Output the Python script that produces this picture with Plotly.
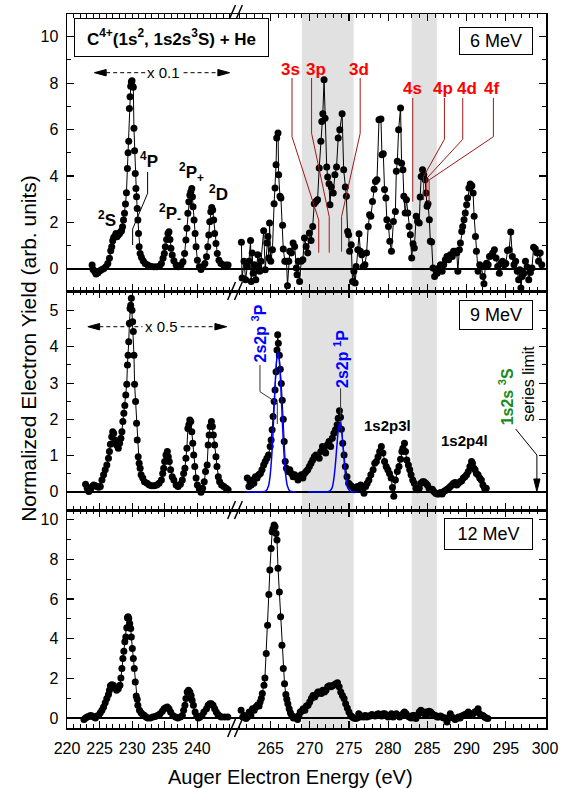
import plotly.graph_objects as go
from plotly.subplots import make_subplots

# ---------------- data (energy eV, normalized yield) ----------------
mev6_left = [(223.85,0.16),(224.00,-0.03),(224.26,-0.13),(224.46,-0.23),(224.76,-0.17),(225.06,-0.09),
 (225.36,-0.03),(225.66,0.01),(225.96,0.09),(226.26,0.23),(226.51,0.45),(226.71,0.78),(226.86,0.95),
 (227.01,1.21),(227.16,1.35),(227.36,1.41),(227.51,1.52),(227.66,1.38),(227.87,1.45),(228.07,1.52),
 (228.22,1.59),(228.37,1.64),(228.52,1.81),(228.67,2.10),(228.82,2.39),(228.97,2.79),(229.12,3.28),
 (229.27,4.32),(229.37,5.00),(229.47,5.50),(229.57,6.91),(229.67,7.41),(229.77,7.87),(229.87,8.06),
 (229.97,8.10),(230.07,7.87),(230.17,7.82),(230.27,6.05),(230.37,5.09),(230.47,4.11),(230.57,3.46),
 (230.67,3.10),(230.77,2.60),(230.87,2.10),(230.97,1.52),(231.07,0.95),(231.22,0.66),(231.42,0.49),
 (231.68,0.34),(231.98,0.23),(232.38,0.16),(232.78,0.11),(233.28,0.09),(233.78,0.09),(234.18,0.11),
 (234.48,0.23),(234.73,0.45),(234.93,0.66),(235.08,0.95),(235.28,1.26),(235.49,1.52),(235.64,1.59),
 (235.79,1.26),(235.94,0.88),(236.14,0.59),(236.39,0.34),(236.74,0.16),(237.09,0.09),(237.49,0.16),
 (237.79,0.30),(238.04,0.66),(238.24,1.24),(238.39,1.74),(238.54,2.39),(238.69,2.89),(238.84,3.18),
 (238.99,3.32),(239.14,3.46),(239.24,3.10),(239.34,2.67),(239.49,2.10),(239.65,1.52),(239.80,0.95),
 (240.00,0.37),(240.30,0.09),(240.55,-0.03),(240.85,0.09),(241.15,0.23),(241.40,0.52),(241.60,0.95),
 (241.75,1.45),(241.90,2.03),(242.05,2.46),(242.20,2.64),(242.35,2.53),(242.50,2.10),(242.65,1.52),
 (242.85,1.09),(243.05,0.66),(243.31,0.37),(243.61,0.23),(244.01,0.16),(244.41,0.16),(244.71,0.16)]

mev6_right = [(261.29,1.14),(261.38,-0.40),(261.63,0.32),(261.83,-0.47),(262.04,0.10),(262.25,0.32),
 (262.46,1.22),(262.54,-0.55),(262.67,0.68),(262.79,-0.19),(262.96,0.17),(263.13,-0.47),(263.38,0.60),
 (263.50,0.10),(263.63,-0.11),(263.79,0.32),(264.13,1.64),(264.33,-0.04),(264.54,1.11),(264.67,1.39),
 (264.79,0.46),(264.88,1.97),(265.04,0.32),(265.25,0.82),(265.46,2.80),(265.58,3.48),(265.71,4.48),
 (265.79,5.63),(265.96,5.85),(266.04,4.05),(266.21,3.12),(266.33,3.05),(266.54,1.87),(266.63,0.85),
 (266.83,0.32),(267.04,0.32),(267.17,-0.73),(267.33,0.32),(267.46,0.75),(267.67,0.68),(267.88,1.11),
 (268.08,0.96),(268.29,0.03),(268.38,-0.26),(268.54,0.32),(268.71,-0.55),(268.92,0.32),(269.13,0.39),
 (269.33,1.32),(269.54,0.96),(269.75,0.68),(269.96,1.54),(270.17,1.22),(270.38,1.82),(270.58,2.80),
 (270.79,2.90),(271.00,2.97),(271.21,4.34),(271.42,5.49),(271.54,6.35),(271.67,6.68),(271.83,8.15),
 (271.96,6.49),(272.17,4.38),(272.29,3.95),(272.46,3.66),(272.58,2.76),(272.75,3.52),(273.00,3.26),
 (273.21,4.05),(273.42,4.38),(273.63,5.63),(273.83,5.99),(274.13,6.68),(274.33,4.27),(274.54,3.52),
 (274.67,3.12),(274.83,1.61),(274.96,1.47),(275.08,0.75),(275.29,1.03),(275.46,-0.55),(275.63,-0.11),
 (275.79,-0.62),(275.92,0.10),(276.13,0.82),(276.29,1.51),(276.46,0.75),(276.63,0.60),(276.83,0.10),
 (277.04,0.17),(277.25,0.68),(277.46,1.82),(277.63,2.33),(277.79,2.26),(278.00,2.90),(278.21,3.43),
 (278.38,3.76),(278.58,3.84),(278.83,6.42),(279.08,6.45),(279.21,4.91),(279.38,4.96),(279.54,3.41),
 (279.71,3.05),(279.83,2.11),(280.04,1.82),(280.21,1.18),(280.42,0.75),(280.67,2.04),(280.92,2.47),
 (281.04,4.20),(281.17,4.63),(281.33,5.99),(281.58,6.93),(281.71,4.55),(281.88,4.27),(282.00,3.12),
 (282.17,2.40),(282.33,2.97),(282.50,2.40),(282.67,1.82),(282.83,1.47),(283.00,0.46),(283.17,1.08),
 (283.33,0.89),(283.58,2.26),(283.75,2.04),(283.96,1.97),(284.08,3.09),(284.21,3.98),(284.38,4.27),
 (284.54,4.05),(284.71,3.84),(284.83,3.26),(284.96,2.69),(285.08,2.80),(285.25,2.11),(285.38,1.18),
 (285.54,1.15),(285.71,0.03),(285.92,-0.33),(286.08,-0.07),(286.25,-0.19),(286.46,0.03),(286.67,0.17),
 (286.88,-0.11),(287.08,0.17),(287.29,0.39),(287.50,0.53),(287.71,0.39),(287.92,0.60),(288.17,0.53),
 (288.33,0.75),(288.54,0.75),(288.75,0.68),(288.88,-0.11),(289.08,0.82),(289.21,1.11),(289.38,1.61),
 (289.50,1.82),(289.67,2.11),(289.83,2.40),(290.00,2.76),(290.13,3.05),(290.29,3.48),(290.46,3.65),
 (290.67,3.58),(290.83,3.26),(290.96,2.26),(291.13,1.39),(291.25,0.75),(291.46,-0.11),(291.67,0.17),
 (291.88,0.10),(292.08,-0.33),(292.21,-0.65),(292.38,0.10),(292.54,0.24),(292.75,0.17),(292.92,0.53),
 (293.13,0.56),(293.33,0.68),(293.54,0.82),(293.75,0.46),(293.96,0.10),(294.17,-0.19),(294.38,0.24),
 (294.58,0.32),(294.79,0.17),(295.00,0.22),(295.21,0.79),(295.42,0.82),(295.63,1.58),(295.83,0.53),
 (296.04,0.17),(296.25,0.32),(296.46,-0.11),(296.63,-0.47),(296.79,-0.04),(296.92,-0.83),(297.08,-0.33),
 (297.29,-0.19),(297.50,0.32),(297.71,0.07),(297.92,-0.47),(298.13,-0.16),(298.33,0.03),(298.54,0.93),
 (298.75,0.86),(298.96,0.68),(299.17,0.32),(299.38,0.68),(299.58,0.17)]

mev9_left = [(222.85,0.21),(223.10,0.10),(223.35,0.01),(223.60,0.06),(223.85,0.15),(224.10,0.19),
 (224.36,0.17),(224.61,0.15),(224.86,0.13),(225.11,0.15),(225.36,0.33),(225.61,0.47),(225.86,0.61),
 (226.11,0.74),(226.36,0.93),(226.51,1.11),(226.66,1.31),(226.86,1.52),(227.01,1.66),(227.16,1.62),
 (227.36,1.43),(227.61,1.29),(227.87,1.20),(228.07,1.34),(228.27,1.48),(228.42,1.66),(228.57,1.94),
 (228.72,2.17),(228.87,2.38),(229.02,2.67),(229.17,2.97),(229.27,3.50),(229.37,3.77),(229.47,4.14),
 (229.57,4.65),(229.67,5.06),(229.77,5.15),(229.87,5.34),(229.97,5.01),(230.07,4.69),(230.17,4.42),
 (230.27,3.77),(230.37,2.97),(230.52,2.49),(230.67,1.89),(230.77,1.43),(230.92,0.97),(231.07,0.79),
 (231.22,0.65),(231.37,0.47),(231.62,0.38),(231.88,0.28),(232.28,0.24),(232.63,0.19),(232.98,0.17),
 (233.38,0.17),(233.78,0.19),(234.13,0.24),(234.48,0.33),(234.68,0.51),(234.83,0.65),(234.98,0.84),
 (235.18,1.02),(235.39,1.11),(235.54,0.97),(235.69,0.84),(235.89,0.61),(236.14,0.42),(236.39,0.33),
 (236.74,0.19),(237.04,0.15),(237.39,0.21),(237.69,0.33),(237.89,0.51),(238.09,0.65),(238.24,0.93),
 (238.39,1.20),(238.54,1.75),(238.69,1.85),(238.84,1.98),(238.99,1.94),(239.14,1.66),(239.29,1.34),
 (239.44,1.02),(239.60,0.70),(239.80,0.38),(240.00,0.19),(240.30,0.08),(240.55,-0.01),(240.80,0.10),
 (241.05,0.28),(241.25,0.56),(241.50,0.74),(241.65,1.29),(241.80,1.57),(241.95,1.80),(242.15,1.94),
 (242.30,1.80),(242.45,1.57),(242.65,1.29),(242.85,0.97),(243.00,0.70),(243.21,0.42),(243.41,0.28),
 (243.71,0.19),(244.06,0.15),(244.41,0.10),(244.71,0.06)]

mev9_right = [(262.04,0.38),(262.25,0.15),(262.38,0.28),(262.54,0.19),(262.67,0.33),(262.88,0.24),
 (263.08,0.42),(263.29,0.38),(263.50,0.47),(263.71,0.51),(263.92,0.61),(264.13,0.74),(264.33,0.84),
 (264.54,0.93),(264.75,1.02),(264.96,1.25),(265.08,1.43),(265.21,1.71),(265.33,2.08),(265.46,2.49),
 (265.58,2.81),(265.71,3.31),(265.83,3.91),(265.92,4.33),(266.00,4.10),(266.13,3.77),(266.25,3.38),
 (266.38,2.99),(266.50,2.53),(266.63,2.00),(266.75,1.39),(266.88,0.84),(267.04,0.65),(267.25,0.56),
 (267.46,0.61),(267.67,0.51),(267.88,0.42),(268.08,0.47),(268.29,0.42),(268.50,0.33),(268.71,0.42),
 (268.92,0.47),(269.13,0.38),(269.33,0.51),(269.54,0.56),(269.75,0.61),(269.96,0.70),(270.17,0.79),
 (270.38,0.88),(270.58,0.97),(270.79,1.02),(271.00,0.97),(271.21,0.93),(271.42,1.11),(271.63,1.25),
 (271.83,1.16),(272.04,1.07),(272.25,1.29),(272.46,1.39),(272.67,1.25),(272.88,1.48),(273.08,1.62),
 (273.29,1.71),(273.50,1.85),(273.63,2.03),(273.79,2.24),(273.92,2.06),(274.04,1.73),(274.21,1.34),
 (274.38,1.02),(274.54,0.70),(274.75,0.42),(274.96,0.24),(275.17,0.19),(275.38,0.15),(275.67,0.06),
 (275.88,0.10),(276.08,0.15),(276.29,0.10),(276.50,0.19),(276.71,0.06),(276.92,-0.04),(277.13,0.15),
 (277.33,0.24),(277.54,0.33),(277.79,0.47),(278.08,0.61),(278.29,0.79),(278.50,0.84),(278.71,0.97),
 (278.92,1.11),(279.13,1.25),(279.33,1.07),(279.54,0.84),(279.75,0.70),(279.96,0.61),(280.17,0.51),
 (280.38,0.38),(280.55,0.12),(280.72,-0.12),(280.92,0.33),(281.17,0.56),(281.38,0.70),(281.58,0.90),
 (281.75,1.11),(281.88,1.20),(282.08,1.34),(282.21,1.11),(282.38,0.88),(282.58,0.74),(282.75,0.61),
 (282.92,0.47),(283.13,0.33),(283.33,0.24),(283.54,0.10),(283.75,0.06),(283.96,0.10),(284.17,0.24),
 (284.38,0.28),(284.58,0.28),(284.79,0.24),(285.00,0.19),(285.21,0.10),(285.42,0.06),(285.63,0.07),
 (285.83,0.01),(286.04,-0.04),(286.25,-0.06),(286.46,-0.06),(286.67,-0.02),(286.88,-0.06),(287.08,0.01),
 (287.29,0.04),(287.50,0.07),(287.71,0.10),(287.92,0.15),(288.13,0.19),(288.33,0.24),(288.54,0.26),
 (288.75,0.19),(288.96,0.24),(289.17,0.28),(289.38,0.31),(289.58,0.38),(289.79,0.42),(290.00,0.47),
 (290.21,0.56),(290.42,0.70),(290.63,0.84),(290.75,0.79),(290.92,0.65),(291.08,0.61),(291.25,0.51),
 (291.46,0.47),(291.67,0.38),(291.88,0.33),(292.08,0.19),(292.29,0.10),(292.50,0.10)]

mev12_left = [(222.60,-0.07),(222.85,0.00),(223.10,0.05),(223.35,0.08),(223.60,0.13),(223.85,0.10),
 (224.10,0.05),(224.36,0.00),(224.61,0.10),(224.86,0.13),(225.11,0.27),(225.36,0.39),(225.61,0.56),
 (225.86,0.77),(226.11,0.98),(226.36,1.18),(226.51,1.40),(226.66,1.62),(226.86,1.68),(227.11,1.65),
 (227.36,1.52),(227.61,1.40),(227.87,1.48),(228.12,1.65),(228.27,2.02),(228.42,2.49),(228.57,3.00),
 (228.72,3.37),(228.87,3.84),(229.02,4.09),(229.17,4.55),(229.27,5.05),(229.37,5.10),(229.47,5.02),
 (229.62,4.76),(229.77,4.51),(229.87,4.09),(230.02,3.50),(230.17,3.00),(230.32,2.49),(230.47,1.82),
 (230.62,1.11),(230.77,0.94),(230.87,0.64),(231.12,0.39),(231.37,0.27),(231.62,0.17),(231.88,0.13),
 (232.13,0.05),(232.38,0.00),(232.78,0.00),(233.18,0.05),(233.53,0.08),(233.88,0.13),(234.28,0.22),
 (234.63,0.34),(234.88,0.47),(235.13,0.52),(235.39,0.56),(235.64,0.47),(235.89,0.30),(236.24,0.13),
 (236.64,0.05),(236.99,0.00),(237.39,0.05),(237.69,0.13),(237.89,0.39),(238.09,0.64),(238.24,0.98),
 (238.44,1.31),(238.64,1.40),(238.84,1.31),(239.04,1.14),(239.19,0.89),(239.39,0.64),(239.65,0.30),
 (239.90,0.10),(240.15,0.00),(240.40,0.05),(240.70,0.13),(241.00,0.30),(241.40,0.47),(241.65,0.64),
 (241.90,0.72),(242.15,0.72),(242.40,0.64),(242.65,0.47),(242.90,0.30),(243.15,0.17),(243.41,0.10),
 (243.66,0.05),(244.16,0.05),(244.66,0.05)]

mev12_right = [(261.25,0.39),(261.46,0.05),(261.67,0.13),(261.88,-0.03),(262.08,0.05),(262.29,0.30),
 (262.50,0.13),(262.71,0.47),(262.92,0.39),(263.13,0.56),(263.33,0.64),(263.54,0.61),(263.67,0.81),
 (263.83,0.98),(263.96,1.23),(264.17,1.65),(264.29,2.02),(264.46,3.25),(264.63,4.68),(264.79,6.23),
 (264.92,7.46),(265.08,8.55),(265.21,9.39),(265.33,9.56),(265.46,9.73),(265.58,9.65),(265.71,9.31),
 (265.83,8.98),(265.96,7.55),(266.13,6.36),(266.29,5.10),(266.46,3.67),(266.63,2.49),(266.79,1.73),
 (266.96,1.18),(267.08,0.94),(267.21,0.72),(267.38,0.47),(267.54,0.27),(267.71,0.13),(267.92,0.00),
 (268.13,0.05),(268.33,0.00),(268.46,-0.07),(268.63,0.13),(268.79,0.30),(268.96,0.34),(269.17,0.47),
 (269.38,0.39),(269.58,0.61),(269.79,0.64),(270.00,0.81),(270.21,0.98),(270.42,1.14),(270.63,1.06),
 (270.83,1.18),(271.04,1.31),(271.25,1.31),(271.46,1.23),(271.67,1.40),(271.88,1.31),(272.08,1.40),
 (272.29,1.57),(272.50,1.62),(272.71,1.57),(272.92,1.62),(273.13,1.68),(273.33,1.73),(273.54,1.78),
 (273.75,1.57),(273.96,1.31),(274.17,1.14),(274.38,0.98),(274.58,0.72),(274.79,0.50),(275.00,0.30),
 (275.21,0.13),(275.42,0.05),(275.63,0.00),(275.83,-0.03),(276.04,0.00),(276.25,0.22),(276.46,0.05),
 (276.67,0.10),(276.88,0.05),(277.08,0.13),(277.29,0.05),(277.50,0.10),(277.71,0.10),(277.92,0.17),
 (278.13,0.13),(278.33,0.10),(278.54,0.17),(278.75,0.22),(278.96,0.13),(279.17,0.10),(279.38,0.22),
 (279.58,0.22),(279.79,0.13),(280.00,0.05),(280.21,0.13),(280.42,0.22),(280.63,0.05),(280.83,0.13),
 (281.04,0.22),(281.25,0.13),(281.46,0.05),(281.67,0.13),(281.88,0.22),(282.08,0.30),(282.29,0.22),
 (282.50,0.10),(282.71,0.05),(282.92,0.00),(283.13,0.13),(283.33,0.13),(283.54,-0.03),(283.75,0.13),
 (283.96,0.30),(284.17,0.39),(284.38,0.30),(284.58,0.22),(284.79,0.30),(285.00,0.22),(285.21,0.34),
 (285.42,0.30),(285.63,0.22),(285.83,0.13),(286.04,0.13),(286.25,0.05),(286.46,0.05),(286.67,0.10),
 (286.88,0.05),(287.08,0.00),(287.29,0.00),(287.50,-0.20),(287.71,0.00),(287.92,0.22),(288.13,0.05),
 (288.33,0.00),(288.54,-0.07),(288.75,-0.03),(288.96,0.05),(289.17,0.00),(289.38,0.10),(289.58,0.13),
 (289.79,0.17),(290.00,0.22),(290.21,0.30),(290.42,0.13),(290.63,0.22),(290.83,0.22),(291.04,0.30),
 (291.25,0.34),(291.46,0.47),(291.67,0.22),(291.88,0.13),(292.08,0.13),(292.29,0.05),(292.50,0.00),
 (292.71,-0.03)]

# blue fitted lines
fit_2s2p_3P = [(261.9,0.0),(263.9,0.0),(264.45,0.03),(264.75,0.17),(264.95,0.44),(265.15,0.96),
 (265.35,1.77),(265.55,2.74),(265.75,3.55),(265.95,3.87),(266.15,3.55),(266.35,2.74),(266.55,1.77),
 (266.75,0.96),(266.95,0.44),(267.15,0.17),(267.45,0.03),(268.0,0.0),(268.2,0.0)]
fit_2s2p_1P = [(269.8,0.0),(272.2,0.0),(272.55,0.02),(272.85,0.11),(273.05,0.32),(273.25,0.70),
 (273.45,1.23),(273.65,1.72),(273.85,1.93),(274.05,1.72),(274.25,1.23),(274.45,0.70),(274.65,0.32),
 (274.85,0.11),(275.15,0.02),(275.5,0.0),(276.0,0.0)]

gray_bands = [(269.0, 275.6), (283.0, 286.2)]
x_ticks_left = [220, 225, 230, 235, 240]
x_ticks_right = [265, 270, 275, 280, 285, 290, 295, 300]
panel_labels = ["6 MeV", "9 MeV", "12 MeV"]

# ---------------- figure geometry ----------------
W, H = 570, 789
ML, MR, MT, MB = 67, 14, 14, 61
FONT = "Liberation Sans, Arial, Helvetica, sans-serif"


def px(x):  # window pixel -> paper x
    return (x - ML) / (W - ML - MR)


def py(y):  # window pixel -> paper y
    return (H - MB - y) / (H - MT - MB)


fig = make_subplots(rows=3, cols=2, column_widths=[173.7, 315.3], row_heights=[277, 219, 218],
                    horizontal_spacing=0, vertical_spacing=0)

series = {(1, 1): mev6_left, (1, 2): mev6_right, (2, 1): mev9_left, (2, 2): mev9_right,
          (3, 1): mev12_left, (3, 2): mev12_right}
for (r, c), pts in series.items():
    fig.add_trace(go.Scatter(x=[p[0] for p in pts], y=[p[1] for p in pts], mode="lines+markers",
                             line=dict(color="black", width=1),
                             marker=dict(color="black", size=7),
                             showlegend=False, hoverinfo="skip"), row=r, col=c)

for fit in (fit_2s2p_3P, fit_2s2p_1P):
    fig.add_trace(go.Scatter(x=[p[0] for p in fit], y=[p[1] for p in fit], mode="lines",
                             line=dict(color="#0000ff", width=1.5, shape="spline", smoothing=0.8),
                             showlegend=False, hoverinfo="skip"), row=2, col=2)

shapes = []
annots = []

# gray bands (right column axes: x2/y2, x4/y4, x6/y6)
for ax in ("2", "4", "6"):
    for b0, b1 in gray_bands:
        shapes.append(dict(type="rect", xref="x" + ax, yref="y" + ax + " domain", x0=b0, x1=b1,
                           y0=0, y1=1, fillcolor="#e1e1e1", line=dict(width=0), layer="below"))

# axes
yrows = {1: ([-0.96, 10.98], 2, 1), 2: ([-0.5, 5.54], 1, 0.5), 3: ([-0.505, 10.49], 2, 1)}
for r in (1, 2, 3):
    rng, dt, mdt = yrows[r]
    for c in (1, 2):
        fig.update_yaxes(row=r, col=c, range=rng, tickmode="linear", tick0=0, dtick=dt,
                         ticks="inside", ticklen=7, tickwidth=1.2, tickcolor="black",
                         minor=dict(ticks="inside", ticklen=4, dtick=mdt, tick0=0, tickcolor="black",
                                    tickwidth=1, showgrid=False),
                         showline=True, linewidth=1.5, linecolor="black", mirror=False,
                         side="left" if c == 1 else "right", showticklabels=(c == 1),
                         showgrid=False, zeroline=True, zerolinewidth=2, zerolinecolor="black",
                         tickfont=dict(size=16, color="black", family=FONT), ticklabelstandoff=4)
        if c == 1:
            fig.update_xaxes(row=r, col=c, range=[220, 246.1], tickmode="array", tickvals=x_ticks_left,
                             minor=dict(ticks="inside", ticklen=4, dtick=1, tick0=220, tickcolor="black",
                                        tickwidth=1, showgrid=False))
        else:
            fig.update_xaxes(row=r, col=c, range=[260.75, 300.12], tickmode="array", tickvals=x_ticks_right,
                             minor=dict(ticks="inside", ticklen=4, dtick=1, tick0=260, tickcolor="black",
                                        tickwidth=1, showgrid=False))
        fig.update_xaxes(row=r, col=c, ticks="inside", ticklen=7, tickwidth=1.2, tickcolor="black",
                         showline=True, linewidth=1.5, linecolor="black", mirror="ticks",
                         showgrid=False, zeroline=False, showticklabels=(r == 3),
                         tickfont=dict(size=16, color="black", family=FONT), ticklabelstandoff=5)


def path_line(pts, color="black", width=1, dash=None):
    d = "M " + " L ".join(f"{px(x):.5f},{py(y):.5f}" for x, y in pts)
    ln = dict(color=color, width=width)
    if dash:
        ln["dash"] = dash
    shapes.append(dict(type="path", xref="paper", yref="paper", path=d, line=ln))


def tri(tip_x, base_x, y, half=3.2):
    d = (f"M {px(tip_x):.5f},{py(y):.5f} L {px(base_x):.5f},{py(y - half):.5f} "
         f"L {px(base_x):.5f},{py(y + half):.5f} Z")
    shapes.append(dict(type="path", xref="paper", yref="paper", path=d,
                       fillcolor="black", line=dict(color="black", width=1)))


def ann(text, x, y, size=16, color="black", bold=False, angle=0, **kw):
    if bold:
        text = f"<b>{text}</b>"
    d = dict(text=text, x=px(x), y=py(y), xref="paper", yref="paper", showarrow=False,
             xanchor="center", yanchor="middle", textangle=angle,
             font=dict(size=size, color=color, family=FONT))
    d.update(kw)
    annots.append(d)


# boxes
ann("C<sup>4+</sup>(1s<sup>2</sup>, 1s2s<sup>3</sup>S) + He", 173.5, 37.5, size=17, bold=True,
    bordercolor="black", borderwidth=1, borderpad=2, bgcolor="white", width=189, height=33)
box_pos = [(505, 41, 68, 22), (505, 315, 68, 24), (497.5, 534, 83, 26)]
for lab, (bx, by, bw, bh) in zip(panel_labels, box_pos):
    ann(lab, bx, by, size=18, bordercolor="black", borderwidth=1, borderpad=2, bgcolor="white",
        width=bw, height=bh)

# scale arrows
for (yy, tipL, tipR, txt, tx, dL, dR) in [(72.7, 95, 233, "x 0.1", 166, (107, 147), (186, 221)),
                                          (326.7, 88.3, 230, "x 0.5", 163.5, (100, 144), (183, 218))]:
    path_line([(dL[0], yy), (dL[1], yy)], dash="4px,3px")
    path_line([(dR[0], yy), (dR[1], yy)], dash="4px,3px")
    tri(tipL, tipL + 12, yy)
    tri(tipR, tipR - 12, yy)
    ann(txt, tx, yy, size=15)

# term labels (6 MeV, left)
ann("<sup>2</sup>S", 108, 219, size=17, bold=True)
ann("<sup>4</sup>P", 151, 160, size=17, bold=True)
ann("<sup>2</sup>P<sub>-</sub>", 172, 213, size=17, bold=True)
ann("<sup>2</sup>P<sub>+</sub>", 194, 172, size=17, bold=True)
ann("<sup>2</sup>D", 222, 193, size=17, bold=True)
path_line([(149.3, 172), (149.3, 193.3), (134, 229), (134, 245)])

# red nl labels
red = "#ff0000"
dred = "#a01818"
for t, x, y in [("3s", 295.5, 69.5), ("3p", 321.5, 69.5), ("3d", 365.3, 69.5),
                ("4s", 419.7, 89), ("4p", 451, 89), ("4d", 475.3, 89), ("4f", 500, 89)]:
    ann(t, x, y, size=17, color=red, bold=True)
path_line([(296.7, 78), (296.7, 136.7), (324, 220), (324, 252.7)], color=dred)
path_line([(316.7, 78), (316.7, 133.3), (334.7, 216.7), (334.7, 252.7)], color=dred)
path_line([(366.3, 78), (366.3, 133.3), (347.3, 216.7), (347.3, 251.7)], color=dred)
path_line([(420, 98), (420, 201.7)], color=dred)
path_line([(452.3, 98), (452.3, 139.3), (431, 176.7), (431, 200)], color=dred)
path_line([(471, 98), (471, 139.3), (434.3, 178.3), (434.3, 196.7)], color=dred)
path_line([(502.3, 98), (502.3, 136.7), (436.7, 180), (436.7, 202.7)], color=dred)

# 9 MeV labels
ann("2s2p <sup>3</sup>P", 263.5, 333, size=16, color="#0000ff", bold=True, angle=-90)
ann("2s2p <sup>1</sup>P", 346.7, 359, size=16, color="#0000ff", bold=True, angle=-90)
path_line([(264, 365), (264, 391.7), (281.7, 403), (281.7, 424)], color="#333333")
path_line([(346.3, 388.3), (346.3, 416.7)], color="#333333")
ann("1s2p3l", 394, 425.8, size=15, bold=True)
ann("1s2p4l", 473.3, 440.8, size=15, bold=True)
ann("1s2s <sup>3</sup>S", 515, 396.5, size=16, color="#1a8a1a", bold=True, angle=-90)
ann("series limit", 538.5, 384, size=16, angle=-90)
path_line([(525, 429), (546.7, 455), (546.7, 480)])
shapes.append(dict(type="path", xref="paper", yref="paper",
                   path=f"M {px(546.7):.5f},{py(491.5):.5f} L {px(543.5):.5f},{py(479):.5f} "
                        f"L {px(549.9):.5f},{py(479):.5f} Z",
                   fillcolor="black", line=dict(color="black", width=1)))

# axis break marks
for yb in (14, 291, 510, 728):
    for cx in (235, 242):
        path_line([(cx - 4, yb + 9), (cx + 4, yb - 9)], width=1.5)

# axis titles
ann("Normalized Electron Yield (arb. units)", 27, 348, size=21, angle=-90)
ann("Auger Electron Energy (eV)", 295, 777, size=20)

fig.update_layout(width=W, height=H, margin=dict(l=ML, r=MR, t=MT, b=MB),
                  paper_bgcolor="white", plot_bgcolor="white", showlegend=False,
                  font=dict(family=FONT, color="black"),
                  shapes=shapes, annotations=annots)

# remove the default page margin so the figure fills the window exactly
fig.write_html("out.html", config={"displayModeBar": False, "staticPlot": True},
               post_script="document.body.style.margin='0';document.body.style.overflow='hidden';")
